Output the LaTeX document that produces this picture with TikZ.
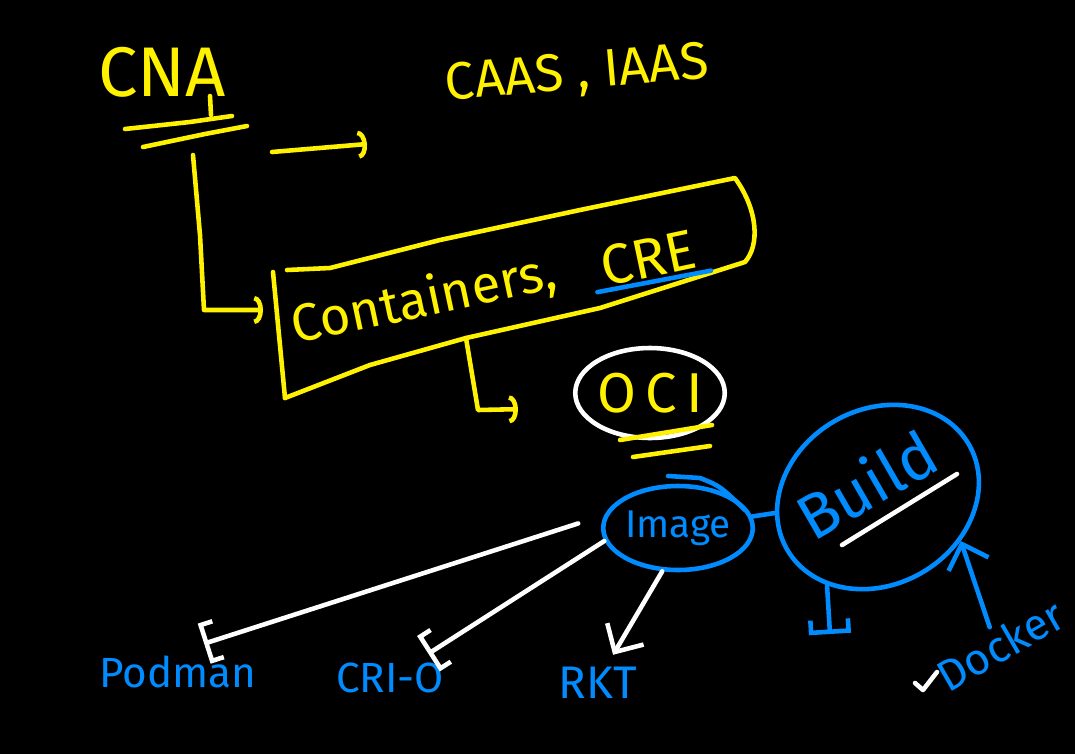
\documentclass[tikz,border=0pt]{standalone}
\usepackage{fontspec}
\setmainfont{Fira Sans}
\usetikzlibrary{arrows.meta,shapes.geometric,calc}
\definecolor{hy}{RGB}{255,242,0}
\definecolor{hb}{RGB}{0,140,255}
\begin{document}
\begin{tikzpicture}[x=0.02cm,y=-0.02cm,line cap=round,line join=round,
 pen/.style={line width=2.6pt},
 ypen/.style={pen,draw=hy},
 bpen/.style={pen,draw=hb},
 wpen/.style={pen,draw=white},
 ytxt/.style={text=hy,inner sep=2pt},
 btxt/.style={text=hb,inner sep=2pt},
 hook/.style={-{Arc Barb[length=5pt,width=16pt]}},
 brk/.style={-{Bracket[length=7pt,width=24pt]}},
 barb/.style={-{Straight Barb[length=12pt,width=24pt]}},
 fs/.style={font=\fontsize{#1}{#1}\selectfont}]
\fill[black] (0,0) rectangle (1075,754);
\useasboundingbox (0,0) rectangle (1075,754);

% ---------- yellow part ----------
\node[ytxt,fs=40] (cna) at (162,72) {CNA};
\draw[ypen] (210,96) -- (211,115);
\draw[ypen] (125,129) -- (190,122) -- (232,116);
\draw[ypen] (143,147) -- (205,134) -- (247,126);

\node[ytxt,fs=30,rotate=5] (caas) at (577,75) {CAAS , IAAS};
\coordinate (a1) at (272,152);
\coordinate (a2) at (367,144);
\draw[ypen,hook] (a1) -- (a2);

% containers box
\draw[ypen] (273,272) -- (285,398);
\draw[ypen] (287,270) -- (330,268) -- (440,240) -- (580,210) -- (735,178)
  .. controls (758,210) and (760,245) .. (745,262)
  -- (600,308) -- (466,338) -- (370,365) -- (285,398);
\coordinate (boxL) at (278,310);
\coordinate (boxb) at (466,338);
\node[ytxt,fs=30,rotate=12] (cont) at (424,300) {Containers,};
\node[ytxt,fs=32,rotate=12] (cre) at (648,258) {CRE};
\draw[bpen] ([xshift=-0.1cm]cre.south west) -- ([xshift=0.15cm]cre.south east);

\coordinate (cnab) at (193,155);
\draw[ypen,hook,shorten >=0.3cm] (cnab) -- (200,235) -- (204,310) -- (boxL);

% OCI
\node[ellipse,draw=white,pen,text=hy,fs=32,minimum width=2.68cm,minimum height=1.8cm,inner sep=0pt] (oci) at (650,393) {O\,C\,I};
\draw[ypen] (620,440) -- (712,425);
\draw[ypen] (633,457) -- (710,446);
\draw[ypen,hook,shorten >=1.1cm] (boxb) -- (478,410) -- (oci.west |- 0,408);

% ---------- blue part ----------
\node[ellipse,draw=hb,pen,text=hb,fs=22,minimum width=2.92cm,minimum height=1.68cm,inner sep=0pt] (image) at (678,528) {Image};
\draw[bpen] (668,476) -- (700,478) .. controls (720,486) .. (745,510);

\node[ellipse,draw=hb,pen,rotate=30,minimum width=4.2cm,minimum height=3.5cm,inner sep=0pt] (build) at (878,497) {};
\node[btxt,fs=36,rotate=30] (buildt) at (866,484) {Build};
\draw[wpen] (842,545) -- (957,474);
\draw[bpen] (image) -- (build);

\node[btxt,fs=24] (podman) at (178,672) {Podman};
\node[btxt,fs=24] (crio) at (390,678) {CRI-O};
\node[btxt,fs=26] (rkt) at (598,683) {RKT};
\node[btxt,fs=25,rotate=30] (docker) at (1000,645) {Docker};
\draw[wpen] (915,683) -- (923,690) -- (937,672);

\coordinate (bdown) at (830,634);
\draw[bpen,brk] (build.-150) -- (bdown);
\draw[bpen,barb] (docker.north) -- (build.-58);

% ---------- white arrows ----------
\draw[wpen,brk,shorten <=0.55cm,shorten >=0.55cm] (image.170) -- (podman.north);
\draw[wpen,brk,shorten >=0.2cm] (image.190) -- ([xshift=0.6cm]crio.north);
\draw[wpen,barb,shorten >=0.2cm] (image.250) -- ([xshift=0.2cm]rkt.north);
\end{tikzpicture}
\end{document}
